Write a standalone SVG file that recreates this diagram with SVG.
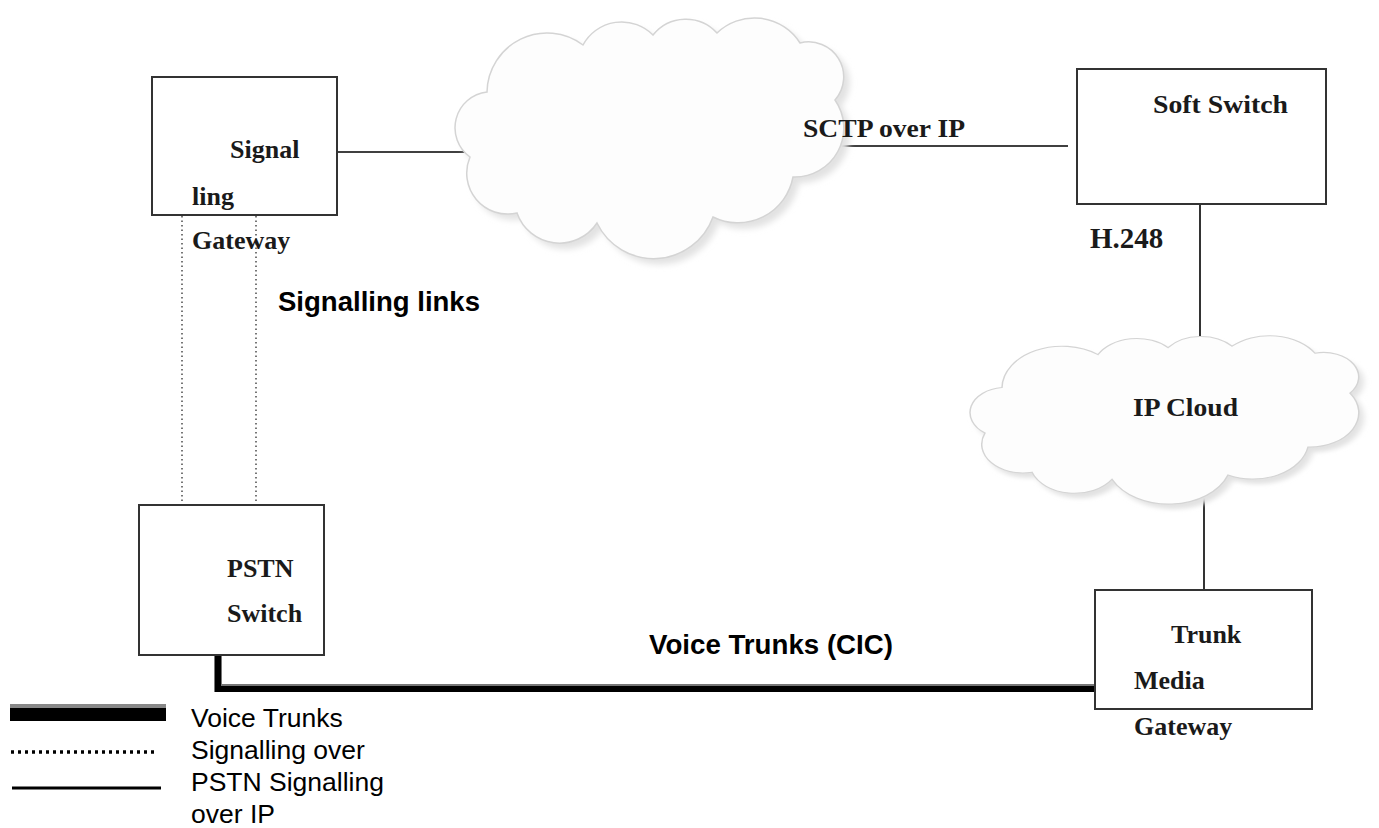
<svg xmlns="http://www.w3.org/2000/svg" width="1379" height="828" viewBox="0 0 1379 828">
<style>
.box{fill:#fff;stroke:#333;stroke-width:2}
.tl{font-family:"Liberation Serif","Times New Roman",serif;font-weight:bold;font-size:26px;fill:#1a1a1a}
.ta{font-family:"Liberation Sans",Arial,sans-serif;font-weight:bold;font-size:27px;fill:#000}
.lg{font-family:"Liberation Sans",Arial,sans-serif;font-size:26.5px;fill:#000}
.ln{stroke:#000;stroke-width:1.6;fill:none}
.dot{stroke:#555;stroke-width:1.6;stroke-dasharray:1.5 3;fill:none}
.cloud{fill:#fdfdfd;stroke:#d4d4d4;stroke-width:1.5}
.shadow{fill:#e2e2e2;stroke:none}
</style>
<defs>
<path id="cl" d="M37,75 A60,60 0 0 1 133,28 A44,44 0 0 1 203,18 A42,42 0 0 1 267,16 A54,54 0 0 1 350,26 A35,35 0 0 1 385,83 A49,49 0 0 1 343,160 A56,56 0 0 1 263,200 A63,63 0 0 1 147,206 A45,45 0 0 1 67,196 A41,41 0 0 1 20,140 A36,36 0 0 1 37,75 Z"/>
<filter id="blur" x="-10%" y="-10%" width="120%" height="120%"><feGaussianBlur stdDeviation="3"/></filter>
</defs>
<rect width="1379" height="828" fill="#fff"/>

<g id="connectors">
<line class="ln" x1="338" y1="152" x2="472" y2="152"/>
<line class="ln" x1="840" y1="146" x2="1068" y2="146"/>
<line class="ln" x1="1200" y1="204" x2="1200" y2="342"/>
<line class="ln" x1="1204" y1="495" x2="1204" y2="590"/>
<line class="dot" x1="182" y1="216" x2="182" y2="505"/>
<line class="dot" x1="256" y1="216" x2="256" y2="505"/>
<path d="M218,655 V688 H1095" fill="none" stroke="#777" stroke-width="8"/>
<path d="M218,656 V689 H1095" fill="none" stroke="#000" stroke-width="6"/>
</g>

<g id="cloud1">
<use href="#cl" class="shadow" transform="translate(456,23)" filter="url(#blur)"/>
<use href="#cl" class="cloud" transform="translate(450,17)"/>
</g>

<g id="cloud2">
<use href="#cl" class="shadow" transform="translate(970,340) scale(1,0.7)" filter="url(#blur)"/>
<use href="#cl" class="cloud" transform="translate(965,335) scale(1,0.7)" vector-effect="non-scaling-stroke"/>
<text class="tl" x="1133" y="416" textLength="105" lengthAdjust="spacingAndGlyphs">IP Cloud</text>
</g>

<g id="signalling-gateway">
<rect class="box" x="152" y="77" width="185" height="138"/>
<text class="tl" x="230" y="158">Signal</text>
<text class="tl" x="192" y="205">ling</text>
<text class="tl" x="192" y="249">Gateway</text>
</g>

<g id="soft-switch">
<rect class="box" x="1077" y="69" width="249" height="135"/>
<text class="tl" x="1153" y="113" textLength="135" lengthAdjust="spacingAndGlyphs">Soft Switch</text>
</g>

<g id="pstn-switch">
<rect class="box" x="139" y="505" width="185" height="150"/>
<text class="tl" x="227" y="577">PSTN</text>
<text class="tl" x="227" y="622">Switch</text>
</g>

<g id="trunk-media-gateway">
<rect class="box" x="1095" y="590" width="217" height="119"/>
<text class="tl" x="1171" y="643">Trunk</text>
<text class="tl" x="1134" y="689">Media</text>
<text class="tl" x="1134" y="735">Gateway</text>
</g>

<g id="labels">
<text class="tl" x="803" y="137" textLength="162" lengthAdjust="spacingAndGlyphs">SCTP over IP</text>
<text class="tl" x="1090" y="248" style="font-size:29px">H.248</text>
<text class="ta" x="278" y="311" textLength="202" lengthAdjust="spacingAndGlyphs">Signalling links</text>
<text class="ta" x="649" y="654" textLength="244" lengthAdjust="spacingAndGlyphs">Voice Trunks (CIC)</text>
</g>

<g id="legend">
<rect x="10" y="704" width="156" height="17" fill="#000"/>
<rect x="10" y="704" width="156" height="4" fill="#888"/>
<line x1="11" y1="752" x2="158" y2="752" stroke="#000" stroke-width="3.5" stroke-dasharray="3 4"/>
<line x1="12" y1="788" x2="161" y2="788" stroke="#000" stroke-width="3"/>
<text class="lg" x="191" y="727">Voice Trunks</text>
<text class="lg" x="191" y="759">Signalling over</text>
<text class="lg" x="191" y="791">PSTN Signalling</text>
<text class="lg" x="191" y="823">over IP</text>
</g>
</svg>
